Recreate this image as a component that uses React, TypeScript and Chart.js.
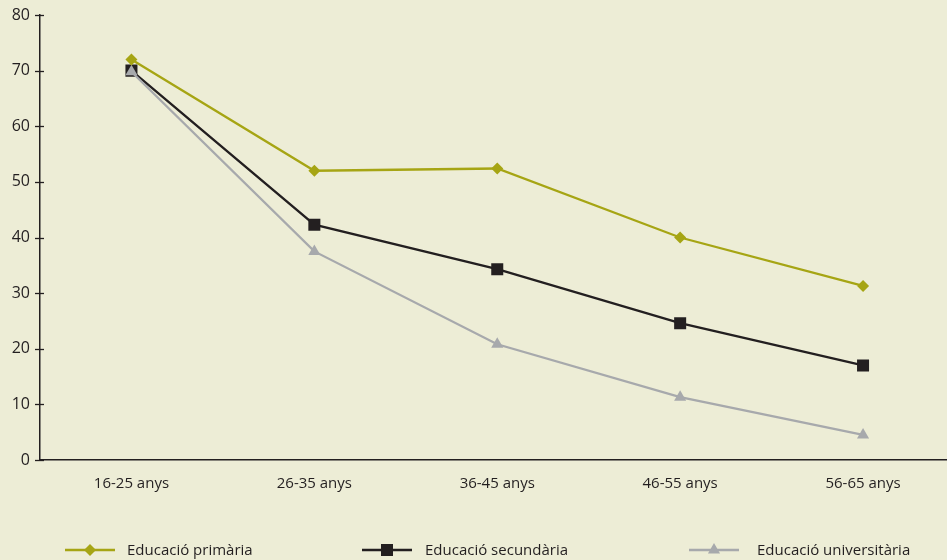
import React, { useEffect, useRef } from 'react';
import { Chart, registerables } from 'chart.js';

Chart.register(...registerables);

const categories = ['16-25 anys', '26-35 anys', '36-45 anys', '46-55 anys', '56-65 anys'];
const primaria = [72, 52, 52.4, 40, 31.3];
const secundaria = [70, 42.3, 34.3, 24.6, 17];
const universitaria = [69.8, 37.5, 20.8, 11.3, 4.5];
const seriesLabels = ['Educació primària', 'Educació secundària', 'Educació universitària'];
const yMin = 0;
const yMax = 80;
const yStep = 10;

const OLIVE = '#A6A514';
const BLACK = '#231F20';
const GRAY = '#A7A9AC';
const BG = '#EDEDD6';
const TEXT = '#231F20';
const FONT = "'Open Sans', 'Noto Sans', sans-serif";

function drawMarker(ctx: CanvasRenderingContext2D, style: string, x: number, y: number, r: number, color: string) {
  ctx.save();
  ctx.fillStyle = color;
  ctx.beginPath();
  if (style === 'rectRot') {
    ctx.moveTo(x, y - r);
    ctx.lineTo(x + r, y);
    ctx.lineTo(x, y + r);
    ctx.lineTo(x - r, y);
    ctx.closePath();
  } else if (style === 'rect') {
    const s = r * Math.SQRT1_2;
    ctx.rect(x - s, y - s, 2 * s, 2 * s);
  } else {
    const h = r;
    ctx.moveTo(x, y - h);
    ctx.lineTo(x + h * Math.sin(Math.PI / 3), y + h * 0.5);
    ctx.lineTo(x - h * Math.sin(Math.PI / 3), y + h * 0.5);
    ctx.closePath();
  }
  ctx.fill();
  ctx.restore();
}

const extrasPlugin = {
  id: 'extras',
  afterDraw(chart: any) {
    const ctx: CanvasRenderingContext2D = chart.ctx;
    const yScale = chart.scales.y;
    const left = chart.chartArea.left;
    ctx.save();
    ctx.strokeStyle = TEXT;
    ctx.lineWidth = 1.3;
    yScale.ticks.forEach((t: any) => {
      const py = Math.round(yScale.getPixelForValue(t.value)) + 0.5;
      ctx.beginPath();
      ctx.moveTo(left - 5, py);
      ctx.lineTo(left + 4, py);
      ctx.stroke();
    });
    ctx.restore();

    const ly = 550;
    const starts = [65, 362, 689];
    const textStarts = [127, 425, 757];
    chart.data.datasets.forEach((ds: any, i: number) => {
      const x0 = starts[i];
      ctx.save();
      ctx.strokeStyle = ds.borderColor;
      ctx.lineWidth = 2.3;
      ctx.beginPath();
      ctx.moveTo(x0, ly);
      ctx.lineTo(x0 + 50, ly);
      ctx.stroke();
      ctx.restore();
      drawMarker(ctx, ds.pointStyle, x0 + 25, ly, ds.pointRadius, ds.borderColor);
      ctx.save();
      ctx.fillStyle = TEXT;
      ctx.font = `15px ${FONT}`;
      ctx.textBaseline = 'middle';
      ctx.textAlign = 'left';
      ctx.fillText(ds.label, textStarts[i], ly + 1);
      ctx.restore();
    });
  },
};

export default function App() {
  const ref = useRef<HTMLCanvasElement | null>(null);

  useEffect(() => {
    if (!ref.current) return;
    const chart = new Chart(ref.current, {
      type: 'line',
      data: {
        labels: categories,
        datasets: [
          {
            label: seriesLabels[0],
            data: primaria,
            borderColor: OLIVE,
            backgroundColor: OLIVE,
            borderWidth: 2.3,
            pointStyle: 'rectRot',
            pointRadius: 6,
            pointBorderWidth: 0,
            order: 0,
          },
          {
            label: seriesLabels[1],
            data: secundaria,
            borderColor: BLACK,
            backgroundColor: BLACK,
            borderWidth: 2.3,
            pointStyle: 'rect',
            pointRadius: 8.5,
            pointBorderWidth: 0,
            order: 2,
          },
          {
            label: seriesLabels[2],
            data: universitaria,
            borderColor: GRAY,
            backgroundColor: GRAY,
            borderWidth: 2.3,
            pointStyle: 'triangle',
            pointRadius: 7,
            pointBorderWidth: 0,
            order: 1,
          },
        ],
      },
      options: {
        responsive: false,
        animation: false,
        layout: { padding: { top: 15, right: 0, bottom: 0, left: 0 } },
        plugins: {
          legend: { display: false },
          tooltip: { enabled: false },
        },
        scales: {
          x: {
            offset: true,
            grid: { display: false, drawTicks: false },
            border: { display: true, color: TEXT, width: 1.5 },
            ticks: { color: TEXT, font: { family: FONT, size: 15 }, padding: 15, maxRotation: 0 },
            afterFit: (scale: any) => {
              scale.height = 100;
            },
          },
          y: {
            min: yMin,
            max: yMax,
            grid: { display: false, drawTicks: false },
            border: { display: true, color: TEXT, width: 1.5 },
            ticks: { stepSize: yStep, color: TEXT, font: { family: FONT, size: 16 }, padding: 10 },
            afterFit: (scale: any) => {
              scale.width = 40;
              scale.paddingTop = 0;
              scale.paddingBottom = 0;
            },
          },
        },
      },
      plugins: [extrasPlugin],
    });
    return () => chart.destroy();
  }, []);

  return (
    <div
      style={{
        position: 'fixed',
        left: 0,
        top: 0,
        width: 947,
        height: 560,
        overflow: 'hidden',
        background: BG,
      }}
    >
      <canvas ref={ref} width={963} height={560} style={{ display: 'block' }} />
    </div>
  );
}
